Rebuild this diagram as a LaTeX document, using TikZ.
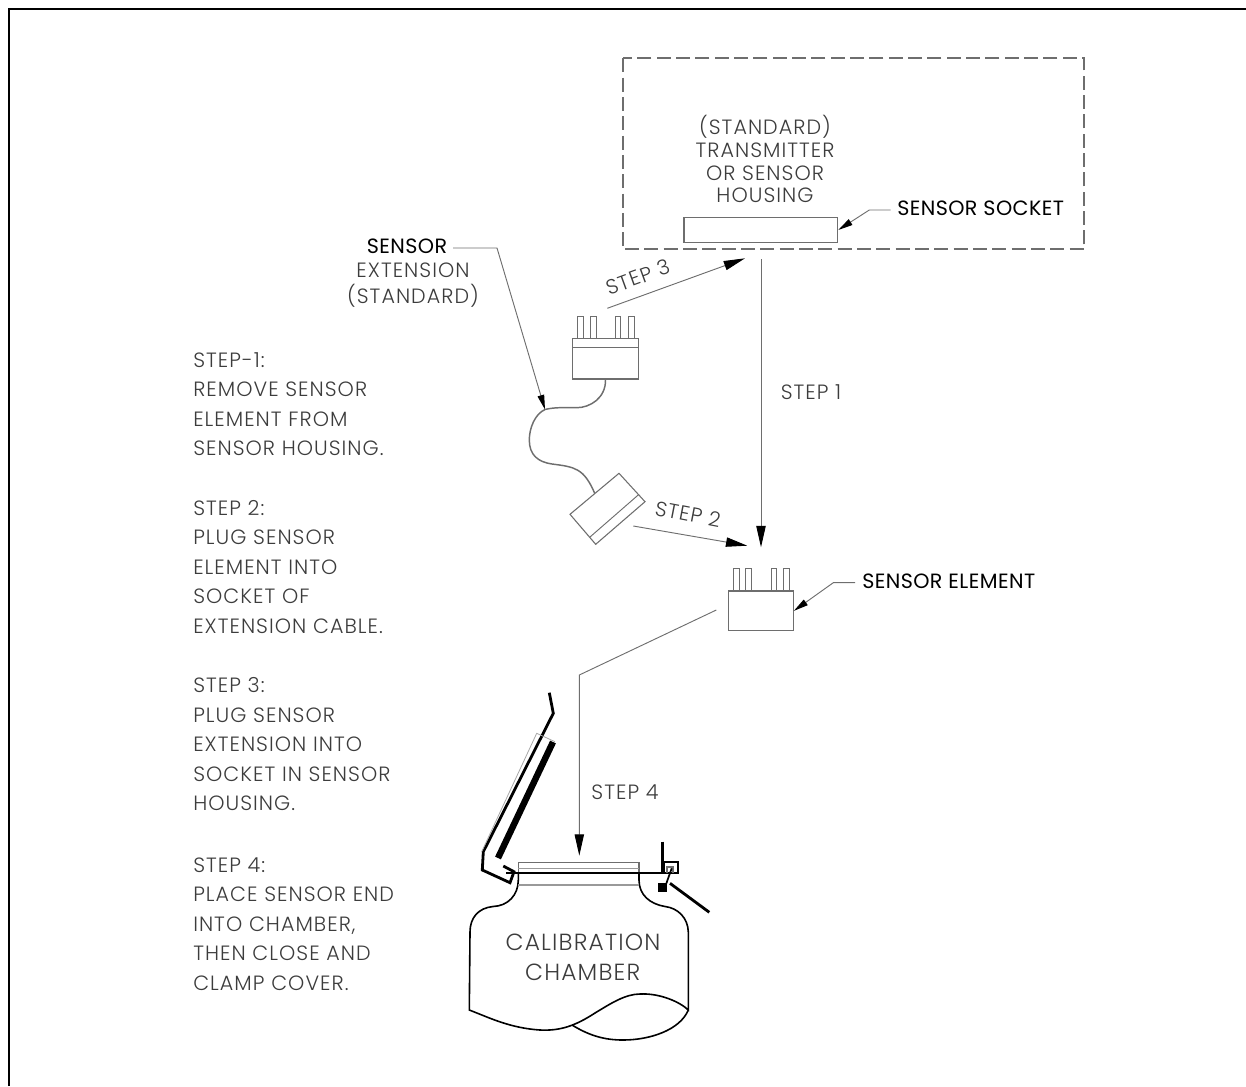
\documentclass[tikz,border=0pt]{standalone}
\usepackage{fontspec}
\setmainfont{Poppins}[UprightFont=* Light,BoldFont=*,LetterSpace=5]
\newfontfamily\darkfont{Poppins}[LetterSpace=2]
\usetikzlibrary{arrows.meta}
\definecolor{txt}{HTML}{3C3C3C}
\definecolor{ln}{HTML}{6E6E6E}
\tikzset{
  x=0.75pt,y=-0.75pt,
  lbl/.style={text=txt,inner sep=0pt,font=\fontsize{15.5}{22.1}\selectfont},
  blk/.style={lbl,align=left,anchor=base west},
  dark/.style={text=black,inner sep=0pt,font=\darkfont\fontsize{15.5}{22.1}\selectfont},
  thin line/.style={draw=ln,line width=0.7pt},
  part/.style={draw=ln,line width=0.8pt,inner sep=0pt,fill=white},
  arr/.style={thin line,-{Triangle[length=16pt,width=7pt,color=black,fill=black]}},
  sarr/.style={thin line,-{Triangle[length=11pt,width=5pt,color=black,fill=black]}},
  heavy/.style={draw=black,line width=2.1pt,line join=miter},
}
\begin{document}
\begin{tikzpicture}
\useasboundingbox (0,0) rectangle (1246,1086);
% page frame
\draw[black,line width=1.5pt] (9,1086) -- (9,9) -- (1246,9);
% housing
\draw[draw=ln,line width=1.3pt,dash pattern=on 10.5pt off 4pt] (622.7,58.3) rectangle (1084,249.3);
\node[part,minimum width=115.3pt,minimum height=19pt] (sock) at (760.85,230) {};
\node[lbl,align=center,font=\fontsize{15.5}{17.2}\selectfont] (housing) at (765,159) {(STANDARD)\\TRANSMITTER\\OR SENSOR\\HOUSING};
\node[dark,anchor=west] (socklbl) at (897,208) {SENSOR SOCKET};
\coordinate (sockbend) at (869.3,210);
\coordinate (sockend) at (890.7,210);
\draw[sarr] (sockend) -- (sockbend) -- (sock.east);
% extension labels
\node[dark] (senslbl) at (407,246) {SENSOR};
\node[lbl] (extlbl) at (413,270) {EXTENSION};
\node[lbl] (stdlbl) at (413,296) {(STANDARD)};
% plug
\foreach \a/\b in {577.7/583.3,590.3/596,615.3/620.7,628.3/634.3}
  \draw[thin line] (\a,338.3) -- (\a,316.7) -- (\b,316.7) -- (\b,338.3);
\node[part,minimum width=49.2pt,minimum height=30.5pt] (plug) at (605.5,358.65) {};
\draw[thin line] (plug.west |- 0,347.3) -- (plug.east |- 0,347.3);
% cable
\coordinate (cabletop) at (545,409.5);
\coordinate (cableend) at (595,494);
\draw[draw=ln,line width=1.1pt] (plug.south) .. controls (606,398) and (590,407.7) .. (576.7,407.7)
  .. controls (565,407.7) and (555,407) .. (cabletop)
  .. controls (535,414) and (529.3,428) .. (529.3,440)
  .. controls (529.3,455) and (538,462) .. (552,464)
  .. controls (575,467) and (584,468) .. (cableend);
% socket end
\draw[part] (619,473.3) -- (645,501.7) -- (595.7,544.3) -- (570,514.3) -- cycle;
\draw[thin line] (639,494.3) -- (590,537);
% element
\foreach \a/\b in {733.3/739,745.7/751,771.7/776.7,783.7/789.3}
  \draw[thin line] (\a,591) -- (\a,568.3) -- (\b,568.3) -- (\b,591);
\node[part,minimum width=48.75pt,minimum height=29.8pt] (elem) at (760.8,610.85) {};
\node[dark,anchor=west] (elemlbl) at (862,581) {SENSOR ELEMENT};
\coordinate (elembend) at (833.3,582.7);
\coordinate (elemend) at (855,582.7);
\draw[sarr] (elemend) -- (elembend) -- (elem.east);
% sensor leader
\coordinate (sensbend) at (497,248);
\coordinate (sensend) at (453,248);
\draw[sarr] (sensend) -- (sensbend) -- (cabletop);
% step arrows
\coordinate (s1a) at (761,259.3); \coordinate (s1b) at (761,547.3);
\draw[arr] (s1a) -- (s1b);
\coordinate (s2a) at (633.3,526); \coordinate (s2b) at (747.3,545.7);
\draw[arr] (s2a) -- (s2b);
\coordinate (s3a) at (607.3,308.3); \coordinate (s3b) at (745,258.3);
\draw[arr] (s3a) -- (s3b);
\coordinate (s4a) at (716.3,610); \coordinate (s4m) at (579.3,675); \coordinate (s4b) at (579.3,855.7);
\draw[arr] (s4a) -- (s4m) -- (s4b);
\node[lbl] (st1) at (811,392) {STEP 1};
\node[lbl,rotate=-11] (st2) at (688,514) {STEP 2};
\node[lbl,rotate=20] (st3) at (638,277) {STEP 3};
\node[lbl] (st4) at (625,792) {STEP 4};
% instructions
\node[blk] (t1) at (193,455.7) {STEP-1:\\REMOVE SENSOR\\ELEMENT FROM\\SENSOR HOUSING.};
\node[blk] (t2) at (193,633.3) {STEP 2:\\PLUG SENSOR\\ELEMENT INTO\\SOCKET OF\\EXTENSION CABLE.};
\node[blk] (t3) at (193,810.5) {STEP 3:\\PLUG SENSOR\\EXTENSION INTO\\SOCKET IN SENSOR\\HOUSING.};
\node[blk] (t4) at (193,990) {STEP 4:\\PLACE SENSOR END\\INTO CHAMBER,\\THEN CLOSE AND\\CLAMP COVER.};
% chamber
\draw[draw=black,line width=1.2pt] (518.3,873) -- (518.3,880)
  .. controls (518.3,895) and (508,906) .. (493,906.5)
  .. controls (478,908) and (470,918) .. (470,932)
  -- (469.3,1010)
  .. controls (490,1018) and (510,1028) .. (540,1030)
  .. controls (560,1031) and (575,1026) .. (595,1013)
  .. controls (610,1004) and (625,994) .. (640,994)
  .. controls (660,993) and (680,1002) .. (688.3,1010)
  -- (688.3,932)
  .. controls (688,918) and (678,908) .. (665,906.5)
  .. controls (650,904) and (639,895) .. (639,880) -- (639,873);
\draw[draw=black,line width=1.2pt] (572,1025) .. controls (590,1036) and (605,1040) .. (623,1040)
  .. controls (650,1040) and (680,1030) .. (688.3,1010);
\draw[draw=ln,line width=1pt] (518.3,873) -- (518.3,862.7) -- (639,862.7) -- (639,873);
\draw[draw=ln!70,line width=0.8pt] (518.3,868.3) -- (639,868.3);
\draw[draw=ln!70,line width=0.8pt] (518.3,885) -- (639,885);
\draw[draw=black,line width=1.4pt] (506,873.3) -- (670,873.3);
\node[lbl,font=\fontsize{17.5}{20}\selectfont] (cal) at (583,942) {CALIBRATION};
\node[lbl,font=\fontsize{17.5}{20}\selectfont] (cham) at (582.7,972) {CHAMBER};
% lid
\draw[heavy] (549.3,692.7) -- (553.3,713.3) -- (483.3,851.7) -- (482.3,870) -- (510,882.7) -- (514,871.7) -- (503.3,866);
\draw[draw=black,line width=4.8pt] (553,742) -- (498,858);
\draw[draw=ln!60,line width=0.6pt] (481.7,851.7) -- (536.7,733.3) -- (555,741.7);
% clamp
\draw[heavy] (662.3,841.7) -- (662.3,873.3);
\draw[draw=black,line width=1.3pt] (664,873.3) -- (664,862.3) -- (678,862.3) -- (678,873.3) -- cycle;
\draw[draw=ln,line width=0.8pt] (667,873.3) -- (667,867) -- (673,867) -- (673,873.3);
\draw[draw=black,line width=1.3pt] (671.7,868.3) -- (664,890);
\fill[black] (658.3,883.3) rectangle (666.7,891.7);
\draw[heavy] (670,883.3) -- (709.3,912.3);
\end{tikzpicture}
\end{document}
